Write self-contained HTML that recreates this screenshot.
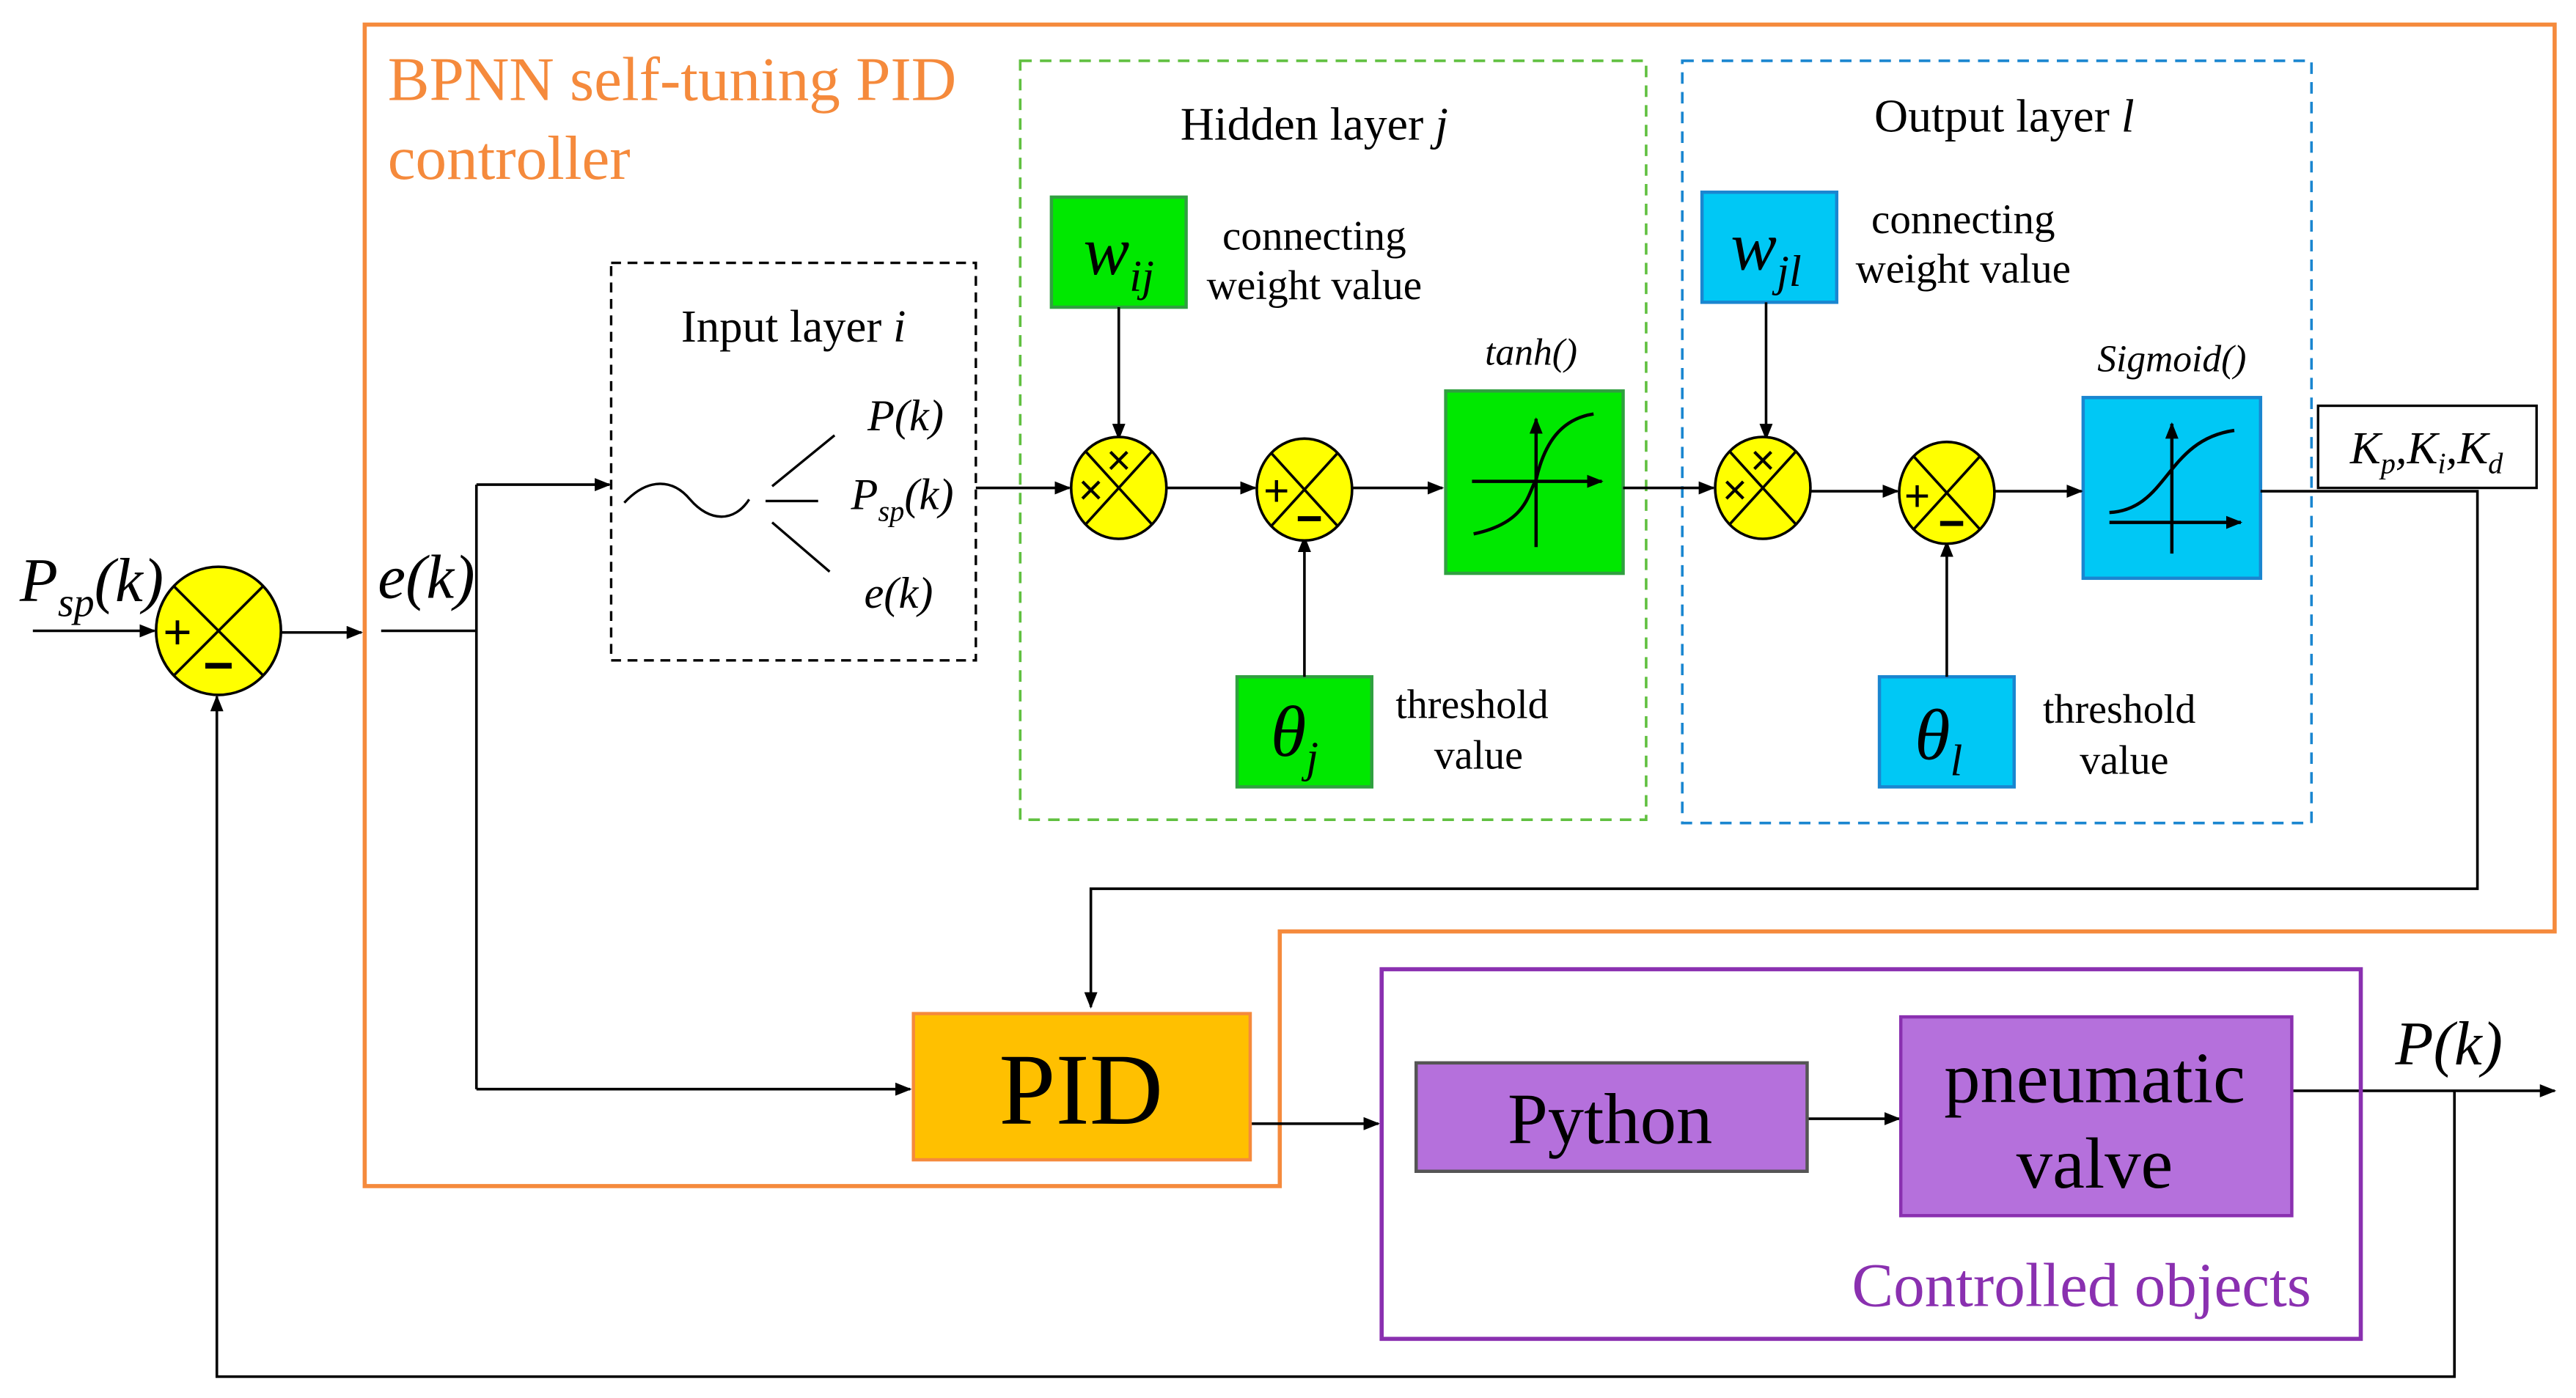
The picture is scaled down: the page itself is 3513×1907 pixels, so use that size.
<!DOCTYPE html>
<html><head><meta charset="utf-8"><style>html,body{margin:0;padding:0;background:#fff}svg{display:block}</style></head>
<body>
<svg width="3513" height="1907" viewBox="0 0 1568 851" preserveAspectRatio="none" xmlns="http://www.w3.org/2000/svg" font-family="Liberation Serif, serif">
<defs>
<marker id="a" markerWidth="10" markerHeight="8" refX="9" refY="4" orient="auto" markerUnits="userSpaceOnUse"><path d="M0,0 L10,4 L0,8 z" fill="#000"/></marker>
</defs>
<rect width="1568" height="851" fill="#fff"/>
<path d="M222,15 H1555 V567 H779 V722 H222 Z" fill="none" stroke="#f58a3c" stroke-width="2.5"/>
<text x="236" y="61" font-size="38" fill="#f58a3c">BPNN self-tuning PID</text>
<text x="236" y="109" font-size="38" fill="#f58a3c">controller</text>
<rect x="621" y="37" width="381" height="462" fill="none" stroke="#60c040" stroke-width="1.6" stroke-dasharray="7,5"/>
<rect x="1024" y="37" width="383" height="464" fill="none" stroke="#1a86d0" stroke-width="1.6" stroke-dasharray="7,5"/>
<rect x="372" y="160" width="222" height="242" fill="none" stroke="#000" stroke-width="1.5" stroke-dasharray="6,4"/>
<text x="483" y="208" font-size="28" text-anchor="middle">Input layer <tspan font-style="italic">i</tspan></text>
<path d="M380,306 C395,290 410,292 420,304 C432,318 447,318 456,304" fill="none" stroke="#000" stroke-width="1.5"/>
<line x1="470" y1="296" x2="508" y2="265" stroke="#000" stroke-width="1.5"/>
<line x1="466" y1="305" x2="498" y2="305" stroke="#000" stroke-width="1.5"/>
<line x1="470" y1="318" x2="505" y2="348" stroke="#000" stroke-width="1.5"/>
<text x="528" y="262" font-size="27" font-style="italic">P(k)</text>
<text x="518" y="310" font-size="27" font-style="italic">P<tspan font-size="18" dy="7">sp</tspan><tspan dy="-7">(k)</tspan></text>
<text x="526" y="370" font-size="27" font-style="italic">e(k)</text>
<text x="800" y="85" font-size="28.5" text-anchor="middle">Hidden layer <tspan font-style="italic">j</tspan></text>
<text x="1220" y="80" font-size="28.5" text-anchor="middle">Output layer <tspan font-style="italic">l</tspan></text>
<rect x="640" y="120" width="82" height="67" fill="#00e800" stroke="#30a040" stroke-width="2"/>
<text x="681" y="167" font-size="42" font-style="italic" text-anchor="middle">w<tspan font-size="27" dy="10">ij</tspan></text>
<text x="800" y="152" font-size="25.5" text-anchor="middle">connecting</text>
<text x="800" y="182" font-size="25.5" text-anchor="middle">weight value</text>
<rect x="753" y="412" width="82" height="67" fill="#00e800" stroke="#30a040" stroke-width="2"/>
<text x="788" y="460" font-size="44" font-style="italic" text-anchor="middle">θ<tspan font-size="27" dy="10">j</tspan></text>
<text x="896" y="437" font-size="25" text-anchor="middle">threshold</text>
<text x="900" y="468" font-size="25" text-anchor="middle">value</text>
<rect x="880" y="238" width="108" height="111" fill="#00e800" stroke="#30a040" stroke-width="2"/>
<text x="932" y="222" font-size="23" font-style="italic" text-anchor="middle">tanh()</text>
<line x1="935" y1="333" x2="935" y2="255" stroke="#000" stroke-width="2" marker-end="url(#a)"/>
<line x1="896" y1="293" x2="975" y2="293" stroke="#000" stroke-width="2" marker-end="url(#a)"/>
<path d="M897,325 C930,318 930,300 935,292 C940,270 950,255 970,252" fill="none" stroke="#000" stroke-width="2"/>
<rect x="1036" y="117" width="82" height="67" fill="#00c8f5" stroke="#1a86d0" stroke-width="2"/>
<text x="1075" y="164" font-size="42" font-style="italic" text-anchor="middle">w<tspan font-size="27" dy="10">jl</tspan></text>
<text x="1195" y="142" font-size="25.5" text-anchor="middle">connecting</text>
<text x="1195" y="172" font-size="25.5" text-anchor="middle">weight value</text>
<rect x="1144" y="412" width="82" height="67" fill="#00c8f5" stroke="#1a86d0" stroke-width="2"/>
<text x="1180" y="462" font-size="44" font-style="italic" text-anchor="middle">θ<tspan font-size="27" dy="10">l</tspan></text>
<text x="1290" y="440" font-size="25" text-anchor="middle">threshold</text>
<text x="1293" y="471" font-size="25" text-anchor="middle">value</text>
<rect x="1268" y="242" width="108" height="110" fill="#00c8f5" stroke="#1a86d0" stroke-width="2"/>
<text x="1322" y="226" font-size="23" font-style="italic" text-anchor="middle">Sigmoid()</text>
<line x1="1322" y1="337" x2="1322" y2="258" stroke="#000" stroke-width="2" marker-end="url(#a)"/>
<line x1="1284" y1="318" x2="1364" y2="318" stroke="#000" stroke-width="2" marker-end="url(#a)"/>
<path d="M1284,312 C1320,310 1318,268 1360,262" fill="none" stroke="#000" stroke-width="2"/>
<rect x="1411" y="247" width="133" height="50" fill="#fff" stroke="#000" stroke-width="1.5"/>
<text x="1477" y="282" font-size="28" font-style="italic" text-anchor="middle">K<tspan font-size="18" dy="6">p</tspan><tspan dy="-6">,K</tspan><tspan font-size="18" dy="6">i</tspan><tspan dy="-6">,K</tspan><tspan font-size="18" dy="6">d</tspan></text>
<g stroke="#000" stroke-width="1.6" fill="none">
<line x1="594" y1="297" x2="651" y2="297" marker-end="url(#a)"/>
<line x1="710" y1="297" x2="764" y2="297" marker-end="url(#a)"/>
<line x1="823" y1="297" x2="878" y2="297" marker-end="url(#a)"/>
<line x1="988" y1="297" x2="1043" y2="297" marker-end="url(#a)"/>
<line x1="1102" y1="299" x2="1155" y2="299" marker-end="url(#a)"/>
<line x1="1214" y1="299" x2="1267" y2="299" marker-end="url(#a)"/>
<polyline points="1376,299 1508,299 1508,541 664,541 664,613" marker-end="url(#a)"/>
<line x1="681" y1="187" x2="681" y2="267" marker-end="url(#a)"/>
<line x1="794" y1="412" x2="794" y2="327" marker-end="url(#a)"/>
<line x1="1075" y1="184" x2="1075" y2="267" marker-end="url(#a)"/>
<line x1="1185" y1="412" x2="1185" y2="330" marker-end="url(#a)"/>
<line x1="20" y1="384" x2="94" y2="384" marker-end="url(#a)"/>
<line x1="171" y1="385" x2="220" y2="385" marker-end="url(#a)"/>
<line x1="232" y1="384" x2="290" y2="384"/>
<line x1="290" y1="295" x2="290" y2="663"/>
<line x1="290" y1="295" x2="371" y2="295" marker-end="url(#a)"/>
<line x1="290" y1="663" x2="554" y2="663" marker-end="url(#a)"/>
<line x1="761" y1="684" x2="839" y2="684" marker-end="url(#a)"/>
<line x1="1100" y1="681" x2="1156" y2="681" marker-end="url(#a)"/>
<line x1="1395" y1="664" x2="1555" y2="664" marker-end="url(#a)"/>
<polyline points="1494,664 1494,838 132,838 132,424" marker-end="url(#a)"/>
</g>
<g stroke="#000" stroke-width="1.6">
<ellipse cx="133" cy="384" rx="38" ry="39" fill="#ffff00"/>
<line x1="106" y1="357" x2="160" y2="411"/><line x1="160" y1="357" x2="106" y2="411"/>
<ellipse cx="681" cy="297" rx="29" ry="31" fill="#ffff00"/>
<line x1="661" y1="275" x2="701" y2="319"/><line x1="701" y1="275" x2="661" y2="319"/>
<ellipse cx="794" cy="298" rx="29" ry="31" fill="#ffff00"/>
<line x1="774" y1="276" x2="814" y2="320"/><line x1="814" y1="276" x2="774" y2="320"/>
<ellipse cx="1073" cy="297" rx="29" ry="31" fill="#ffff00"/>
<line x1="1053" y1="275" x2="1093" y2="319"/><line x1="1093" y1="275" x2="1053" y2="319"/>
<ellipse cx="1185" cy="300" rx="29" ry="31" fill="#ffff00"/>
<line x1="1165" y1="278" x2="1205" y2="322"/><line x1="1205" y1="278" x2="1165" y2="322"/>
</g>
<g font-family="Liberation Sans, sans-serif" fill="#000">
<text x="108" y="395" font-size="30" text-anchor="middle">+</text>
<text x="133" y="416" font-size="32" text-anchor="middle" font-weight="bold">−</text>
<text x="664" y="307" font-size="26" text-anchor="middle">×</text>
<text x="681" y="289" font-size="26" text-anchor="middle">×</text>
<text x="777" y="308" font-size="27" text-anchor="middle">+</text>
<text x="797" y="325" font-size="28" text-anchor="middle" font-weight="bold">−</text>
<text x="1056" y="307" font-size="26" text-anchor="middle">×</text>
<text x="1073" y="289" font-size="26" text-anchor="middle">×</text>
<text x="1167" y="311" font-size="27" text-anchor="middle">+</text>
<text x="1188" y="328" font-size="28" text-anchor="middle" font-weight="bold">−</text>
</g>
<text x="12" y="366" font-size="38" font-style="italic">P<tspan font-size="25" dy="9">sp</tspan><tspan dy="-9">(k)</tspan></text>
<text x="230" y="364" font-size="38" font-style="italic">e(k)</text>
<text x="1458" y="648" font-size="38" font-style="italic">P(k)</text>
<rect x="556" y="617" width="205" height="89" fill="#ffc000" stroke="#f58a3c" stroke-width="2"/>
<text x="658" y="684" font-size="62" text-anchor="middle">PID</text>
<rect x="841" y="590" width="596" height="225" fill="none" stroke="#8a30b0" stroke-width="2.5"/>
<rect x="862" y="647" width="238" height="66" fill="#b570dc" stroke="#555" stroke-width="2"/>
<text x="980" y="696" font-size="44" text-anchor="middle">Python</text>
<rect x="1157" y="619" width="238" height="121" fill="#b570dc" stroke="#8a30b0" stroke-width="2"/>
<text x="1275" y="671" font-size="44" text-anchor="middle">pneumatic</text>
<text x="1275" y="723" font-size="44" text-anchor="middle">valve</text>
<text x="1267" y="795" font-size="38" text-anchor="middle" fill="#8a30b0">Controlled objects</text>
</svg>
</body></html>
